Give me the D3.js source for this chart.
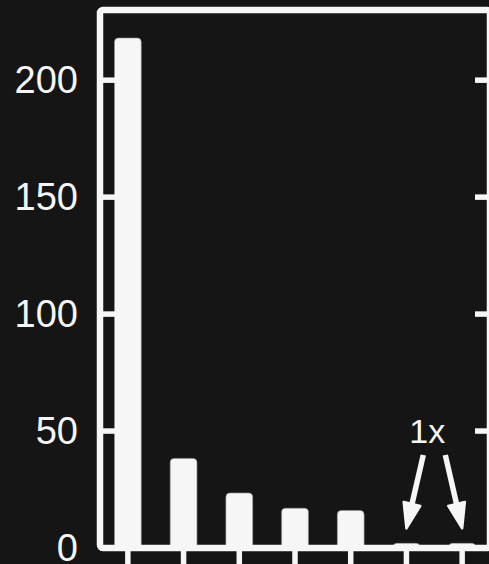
<!DOCTYPE html>
<html>
<head>
<meta charset="utf-8">
<script src="https://cdn.jsdelivr.net/npm/d3@7"></script>
<style>
  html, body { margin: 0; padding: 0; background: #151515; }
  svg { display: block; }
</style>
</head>
<body>
<svg id="chart" width="489" height="564"></svg>
<script>
const categories = ["A", "B", "C", "D", "E", "F", "G"];
const values = [218, 38.3, 23.5, 17, 16, 2, 2];
const yTicks = [0, 50, 100, 150, 200];
const annotationText = "1x";
const annotatedIndices = [5, 6];

(function () {
const W = 489, H = 564;
const fg = "#f6f6f6";
const svg = d3.select("#chart");
svg.append("rect").attr("width", W).attr("height", H).attr("fill", "#151515");

const pL = 100, pR = 490, pT = 10, pB = 548;
const x = d3.scaleBand().domain(categories).range([pL, pR]).paddingInner(0.52).paddingOuter(0.26);
const y = d3.scaleLinear().domain([0, 230]).range([pB, pT]);

// bars with rounded tops
const r = 4;
svg.append("g").selectAll("path").data(values).join("path")
  .attr("fill", fg)
  .attr("stroke", "#9a9a9a").attr("stroke-width", 0.6)
  .attr("d", (d, i) => {
    const x0 = x(categories[i]), w = x.bandwidth();
    const y0 = y(0), y1 = y(d);
    const rr = Math.min(r, (y0 - y1));
    return `M${x0},${y0} V${y1 + rr} Q${x0},${y1} ${x0 + rr},${y1} H${x0 + w - rr} Q${x0 + w},${y1} ${x0 + w},${y1 + rr} V${y0} Z`;
  });

// frame
svg.append("rect")
  .attr("x", pL).attr("y", pT)
  .attr("width", pR - pL).attr("height", pB - pT)
  .attr("rx", 3)
  .attr("fill", "none").attr("stroke", fg).attr("stroke-width", 6.5);

// y ticks inside (left & right)
const tw = 5.5, tl = 15;
const gy = svg.append("g");
gy.selectAll("line.l").data(yTicks).join("line").attr("class", "l")
  .attr("x1", pL).attr("x2", pL + tl)
  .attr("y1", d => y(d)).attr("y2", d => y(d))
  .attr("stroke", fg).attr("stroke-width", tw);
gy.selectAll("line.r").data(yTicks).join("line").attr("class", "r")
  .attr("x1", pR).attr("x2", pR - tl)
  .attr("y1", d => y(d)).attr("y2", d => y(d))
  .attr("stroke", fg).attr("stroke-width", tw);

// y labels
gy.selectAll("text").data(yTicks).join("text")
  .attr("x", 78).attr("y", d => y(d))
  .attr("text-anchor", "end").attr("dominant-baseline", "central")
  .attr("font-family", "Liberation Sans, Arial, sans-serif")
  .attr("font-size", 38).attr("fill", fg)
  .text(d => d);

// x ticks outside bottom
svg.append("g").selectAll("line").data(categories).join("line")
  .attr("x1", d => x(d) + x.bandwidth() / 2).attr("x2", d => x(d) + x.bandwidth() / 2)
  .attr("y1", pB).attr("y2", pB + 20)
  .attr("stroke", fg).attr("stroke-width", tw);

// annotation
const cx = annotatedIndices.map(i => x(categories[i]) + x.bandwidth() / 2);
const mid = (cx[0] + cx[1]) / 2;
svg.append("text")
  .attr("x", mid - 7).attr("y", 443)
  .attr("text-anchor", "middle")
  .attr("font-family", "Liberation Sans, Arial, sans-serif")
  .attr("font-size", 34).attr("fill", fg)
  .text(annotationText);

function arrow(x0, y0, x1, y1) {
  const dx = x1 - x0, dy = y1 - y0, len = Math.hypot(dx, dy);
  const ux = dx / len, uy = dy / len, px = -uy, py = ux;
  const headL = 25, headW = 8.5;
  const bx = x1 - ux * headL, by = y1 - uy * headL;
  svg.append("line")
    .attr("x1", x0).attr("y1", y0).attr("x2", bx + ux * 2).attr("y2", by + uy * 2)
    .attr("stroke", fg).attr("stroke-width", 5.5);
  svg.append("path")
    .attr("d", `M${x1},${y1} L${bx + px * headW},${by + py * headW} L${bx - px * headW},${by - py * headW} Z`)
    .attr("fill", fg).attr("stroke", fg).attr("stroke-width", 2.5).attr("stroke-linejoin", "round");
}
annotatedIndices.forEach((i, k) => {
  const tipY = y(values[i]) - 15;
  const startX = mid + (k === 0 ? -11 : 11);
  arrow(startX, 455, cx[k], tipY);
});
})();
</script>
</body>
</html>
